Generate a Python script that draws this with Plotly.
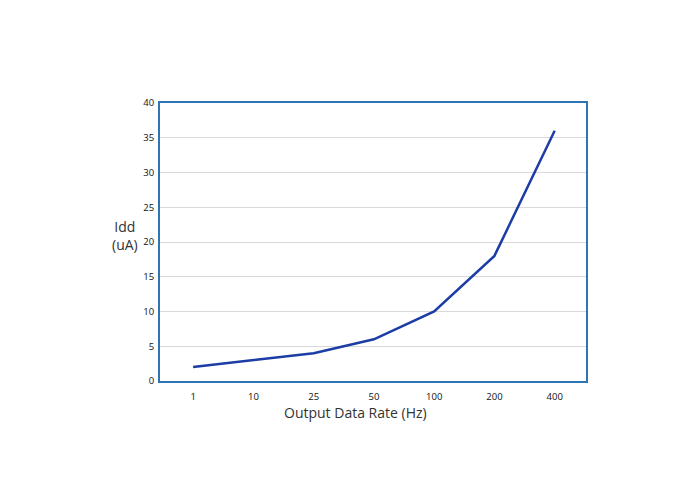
import plotly.graph_objects as go

categories = ["1", "10", "25", "50", "100", "200", "400"]
idd_values = [2, 3, 4, 6, 10, 18, 36]
y_ticks = [0, 5, 10, 15, 20, 25, 30, 35, 40]

fig = go.Figure()
fig.add_trace(go.Scatter(
    x=categories, y=idd_values, mode="lines",
    line=dict(color="#1c3ca6", width=2.5),
    showlegend=False,
))

fig.update_layout(
    width=700, height=500,
    margin=dict(l=152, r=122, t=95, b=127),
    paper_bgcolor="white", plot_bgcolor="white",
    font=dict(family="Open Sans", color="#222"),
    xaxis=dict(
        type="category", range=[-0.55, 6.52],
        showgrid=False, zeroline=False,
        showline=True, linecolor="#2e75b6", linewidth=2, mirror=True,
        ticks="outside", ticklen=6, tickcolor="rgba(0,0,0,0)",
        tickfont=dict(size=9.5, color="#111"),
    ),
    yaxis=dict(
        range=[0, 40], tickvals=y_ticks,
        showgrid=True, gridcolor="#d9d9d9", gridwidth=1.2, zeroline=False,
        showline=True, linecolor="#2e75b6", linewidth=2, mirror=True,
        ticks="outside", ticklen=2, tickcolor="rgba(0,0,0,0)",
        tickfont=dict(size=9.5, color="#111"),
    ),
    annotations=[
        dict(text="Idd<br>(uA)", x=-0.082, y=0.525, xref="paper", yref="paper",
             xanchor="center", yanchor="middle",
             showarrow=False, font=dict(size=14, color="#333"), align="center"),
        dict(text="Output Data Rate (Hz)", x=0.458, y=-0.112, xref="paper", yref="paper",
             xanchor="center", yanchor="middle",
             showarrow=False, font=dict(size=14, color="#333")),
    ],
)

fig.write_html("out.html")
